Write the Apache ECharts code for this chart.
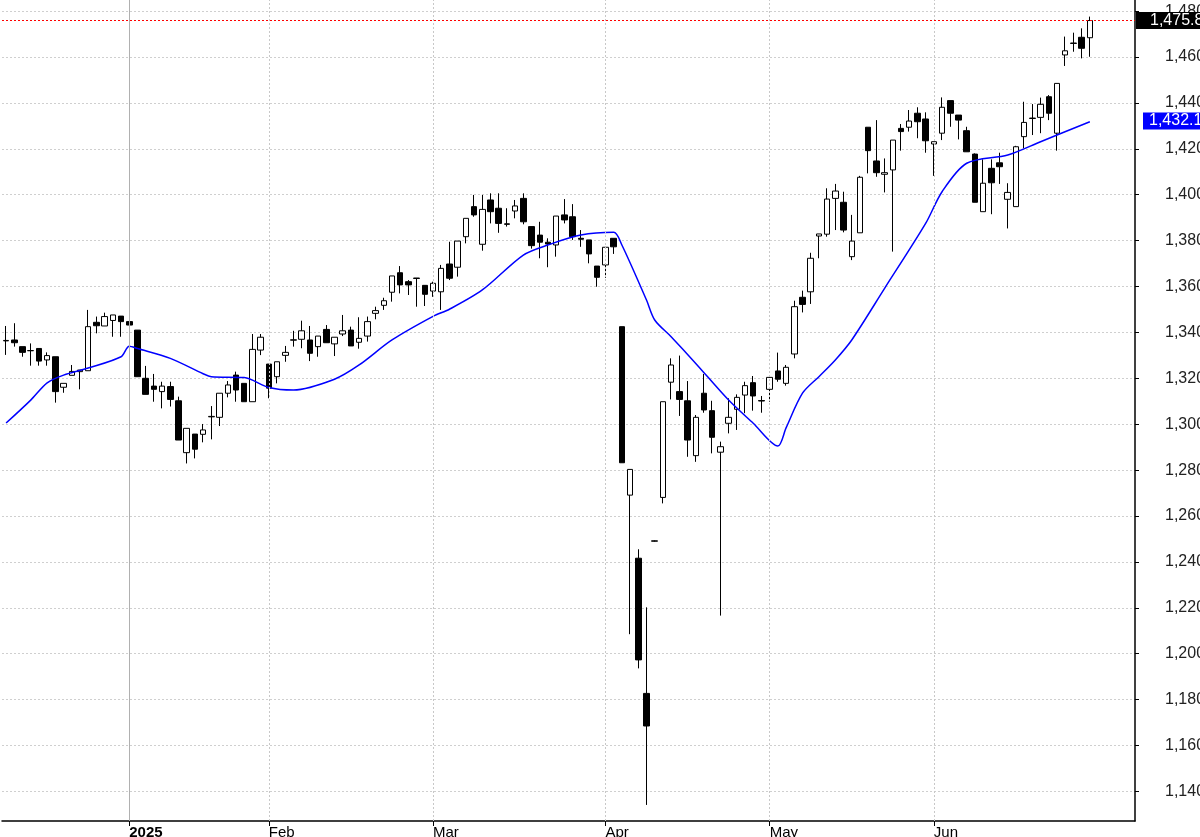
<!DOCTYPE html>
<html><head><meta charset="utf-8">
<script src="https://cdn.jsdelivr.net/npm/echarts@6/dist/echarts.min.js"></script>
<style>html,body{margin:0;padding:0;background:#fff}#c{width:1200px;height:837px}</style>
</head><body><div id="c"></div>
<script>
const opens=[1336.3,1336.7,1333.8,1332.0,1333.0,1328.0,1329.4,1316.1,1321.3,1322.9,1323.3,1344.4,1342.8,1345.2,1347.1,1344.7,1341.0,1320.0,1316.6,1314.2,1316.4,1310.2,1287.6,1295.7,1295.6,1303.2,1303.0,1313.5,1321.4,1317.8,1309.8,1332.3,1326.2,1320.7,1330.0,1336.6,1337.0,1336.7,1333.8,1341.3,1335.0,1339.3,1341.0,1335.7,1338.4,1348.3,1351.8,1357.5,1366.0,1362.1,1363.5,1360.5,1358.0,1357.7,1369.8,1368.4,1381.7,1394.8,1378.4,1397.7,1394.1,1387.3,1392.9,1398.4,1386.1,1382.4,1379.3,1378.1,1391.2,1390.4,1381.0,1380.3,1368.9,1369.4,1381.0,1342.5,1269.1,1241.6,1182.7,1249.0,1268.1,1318.3,1314.2,1310.2,1286.3,1313.5,1305.9,1287.8,1300.4,1306.5,1312.7,1318.1,1310.3,1315.2,1323.2,1317.8,1330.6,1355.3,1357.7,1382.0,1382.8,1398.4,1396.7,1373.0,1383.4,1429.4,1414.7,1408.9,1410.8,1428.9,1429.4,1435.5,1433.0,1422.1,1426.8,1441.0,1434.7,1427.9,1417.7,1392.6,1411.5,1413.9,1398.0,1394.8,1425.3,1433.2,1433.7,1442.7,1426.8,1460.9,1465.9,1468.6,1468.4];
const closes=[1336.5,1335.5,1331.3,1332.1,1327.5,1329.9,1314.2,1317.8,1323.0,1323.6,1342.5,1342.9,1346.9,1347.6,1344.7,1343.2,1320.7,1313.0,1315.2,1316.6,1310.8,1293.1,1298.2,1289.1,1297.5,1303.4,1313.5,1317.1,1314.9,1309.8,1332.6,1337.9,1315.7,1327.2,1331.3,1336.8,1340.7,1330.9,1338.4,1335.5,1337.9,1340.7,1334.1,1337.4,1344.7,1349.5,1353.8,1364.6,1360.7,1360.7,1363.7,1356.6,1361.4,1367.9,1363.6,1379.8,1389.7,1391.2,1393.6,1392.6,1387.5,1387.1,1395.1,1388.2,1377.8,1379.3,1378.5,1390.7,1389.0,1381.7,1380.6,1374.2,1364.0,1377.1,1377.3,1283.2,1280.3,1197.3,1168.5,1249.2,1309.8,1325.8,1310.8,1293.1,1303.0,1306.2,1294.3,1290.2,1303.0,1311.7,1316.8,1312.3,1310.1,1320.4,1319.6,1324.8,1351.2,1352.2,1372.3,1382.9,1398.1,1401.6,1384.6,1379.8,1407.6,1419.2,1409.6,1409.6,1423.8,1427.5,1432.1,1431.8,1423.5,1423.1,1438.1,1435.5,1432.5,1418.7,1396.7,1405.0,1405.2,1412.2,1401.0,1420.9,1431.5,1433.4,1439.4,1435.5,1448.5,1462.7,1466.1,1463.8,1475.89];
const lows=[1330.2,1333.8,1329.4,1325.5,1325.5,1325.5,1309.4,1313.7,1321.3,1315.2,1323.3,1339.6,1342.8,1338.1,1338.1,1334.5,1320.7,1313.0,1309.8,1306.9,1307.7,1293.1,1282.9,1285.1,1292.1,1293.4,1299.2,1311.7,1309.8,1309.8,1309.8,1330.1,1311.3,1317.8,1327.2,1333.8,1333.1,1327.5,1329.4,1335.5,1329.7,1338.4,1334.1,1332.9,1336.0,1345.7,1349.8,1353.4,1357.0,1356.3,1351.2,1351.5,1355.5,1349.8,1362.8,1364.3,1378.8,1390.4,1375.6,1387.5,1383.4,1386.1,1389.7,1387.1,1376.5,1372.3,1368.4,1373.0,1387.5,1380.3,1377.3,1370.1,1359.9,1363.8,1374.2,1283.2,1208.5,1193.6,1134.1,1248.8,1265.5,1310.8,1303.6,1285.8,1283.6,1305.0,1287.3,1216.6,1296.0,1297.5,1304.8,1305.9,1305.0,1309.8,1318.5,1316.8,1328.7,1348.7,1352.4,1372.3,1381.7,1384.6,1383.6,1371.5,1383.4,1409.3,1407.8,1401.0,1375.2,1419.2,1427.5,1424.6,1418.3,1408.2,1423.8,1429.6,1424.1,1418.7,1396.7,1392.6,1391.5,1404.7,1385.3,1394.8,1420.2,1426.0,1426.8,1432.5,1419.2,1456.1,1462.3,1459.4,1460.1];
const highs=[1342.8,1344.0,1333.8,1335.2,1333.0,1331.3,1329.4,1317.8,1325.8,1323.6,1349.8,1346.9,1348.6,1347.6,1347.1,1347.6,1341.0,1325.4,1321.9,1318.5,1318.5,1312.0,1298.2,1295.7,1300.1,1307.9,1313.5,1318.8,1322.9,1317.8,1339.3,1339.3,1326.2,1327.2,1334.1,1340.7,1345.1,1342.8,1338.4,1343.2,1337.9,1347.6,1342.5,1346.6,1346.9,1351.2,1355.1,1364.6,1368.9,1362.8,1363.7,1360.5,1362.1,1369.4,1379.5,1379.8,1389.7,1399.9,1399.9,1400.6,1400.6,1394.1,1397.7,1400.6,1386.1,1388.2,1381.0,1390.7,1398.1,1395.9,1384.6,1380.3,1368.9,1377.1,1381.0,1342.5,1280.3,1245.5,1220.2,1249.4,1309.8,1328.7,1329.9,1318.8,1304.0,1321.9,1310.2,1292.4,1311.3,1313.0,1318.5,1321.0,1312.3,1321.4,1331.2,1325.8,1353.8,1358.2,1374.7,1382.9,1402.8,1404.7,1401.3,1391.2,1408.2,1429.4,1432.5,1415.8,1423.8,1430.8,1436.9,1438.1,1435.9,1423.1,1442.4,1441.0,1434.7,1429.6,1418.0,1415.4,1415.4,1418.3,1405.0,1421.3,1440.5,1439.5,1442.3,1443.4,1448.5,1468.9,1470.6,1472.5,1477.6];
// moving average: [candle index, value]
const maPoints=[[0,1300.5],[3,1310.5],[5,1318],[7,1321.4],[10,1324.5],[14,1329.4],[15,1334],[16,1333],[20,1328.7],[24,1322],[25,1320.7],[29,1320.3],[32,1316],[35,1314.9],[40,1319.6],[43,1325.8],[47,1336.7],[52,1347],[54,1350.1],[58,1358.5],[63,1373.7],[66,1378.1],[70,1382.4],[74,1383.6],[75,1378.1],[78,1354.1],[79,1345.4],[81,1338.1],[84,1326.5],[88,1310.5],[91,1300.4],[94,1290.5],[95,1298.4],[97,1313.5],[99,1320.7],[101,1328],[103,1336.7],[107,1359.2],[112,1387.5],[114,1401.3],[117,1413.7],[122,1417.3],[126,1423.1],[132,1431.8]];
const monthLabels=['2025','Feb','Mar','Apr','May','Jun'];
const monthIdx=[15,32,52,73,93,113];
const yTicks=[1140,1160,1180,1200,1220,1240,1260,1280,1300,1320,1340,1360,1380,1400,1420,1440,1460,1480];
const lastClose=1475.89, lastMA=1432.13;
const N=138;

const cats=[];for(let i=0;i<N;i++)cats.push(String(i));
const candle=opens.map((o,i)=>[o,closes[i],lows[i],highs[i]]);
const ma=new Array(opens.length).fill(null);maPoints.forEach(p=>{ma[p[0]]=p[1];});
const fmt=v=>v.toLocaleString('en-US',{minimumFractionDigits:0,maximumFractionDigits:2});
const isMonth=i=>monthIdx.indexOf(i)>=0;
const FONT='Liberation Sans, Arial';

const vLines=monthIdx.map((k,j)=>({xAxis:k,lineStyle:j===0?{color:'#b0b0b0',type:'solid',width:1}:{color:'#c8c8c8',type:[2,2],width:1}}));

const chart=echarts.init(document.getElementById('c'),null,{renderer:'canvas'});
chart.setOption({
  animation:false,
  grid:{left:2,right:65,top:0,bottom:16,containLabel:false,outerBoundsMode:'none'},
  xAxis:{type:'category',data:cats,boundaryGap:true,
    axisLine:{lineStyle:{color:'#000',width:1.5}},
    axisTick:{show:true,alignWithLabel:true,interval:(i)=>isMonth(i),length:5,lineStyle:{color:'#000'}},
    axisLabel:{interval:(i)=>isMonth(i),align:'left',margin:4,fontFamily:FONT,fontSize:15,color:'#000',
      formatter:(v)=>{const j=monthIdx.indexOf(Number(v));if(j<0)return '';return j===0?'{b|'+monthLabels[j]+'}':monthLabels[j];},
      rich:{b:{fontWeight:'bold',fontSize:15,fontFamily:FONT,color:'#000'}}},
    splitLine:{show:false}},
  yAxis:{type:'value',position:'right',min:1127.1,max:1484.84,scale:true,
    axisLine:{show:true,lineStyle:{color:'#000',width:1.5}},
    axisTick:{show:true,customValues:yTicks,length:4,lineStyle:{color:'#000'}},
    axisLabel:{customValues:yTicks,align:'left',margin:30,fontFamily:FONT,fontSize:16,color:'#222',formatter:v=>fmt(v)},
    splitLine:{show:true,lineStyle:{color:'#cfcfcf',type:[2,2]}}},
  series:[
    {type:'candlestick',data:candle,barWidth:6,
      itemStyle:{color:'#fff',color0:'#000',borderColor:'#000',borderColor0:'#000',borderWidth:1},
      markLine:{silent:true,symbol:'none',animation:false,
        data:[...vLines,
          {yAxis:lastClose,lineStyle:{color:'#ff0000',type:[2,2],width:1},
           label:{show:true,position:'end',distance:1,formatter:fmt(lastClose),color:'#fff',backgroundColor:'#000',padding:[1,4,0,14],fontFamily:FONT,fontSize:16}}],
        label:{show:false}}},
    {type:'line',data:ma,connectNulls:true,showSymbol:false,symbol:'none',smooth:0.3,
      lineStyle:{color:'#0000ff',width:1.5},z:3,
      markLine:{silent:true,symbol:'none',animation:false,
        data:[{yAxis:lastMA,lineStyle:{color:'rgba(0,0,0,0)',width:0},
          label:{show:true,position:'end',distance:8,formatter:fmt(lastMA),color:'#fff',backgroundColor:'#0000ff',padding:[1,4,0,6],fontFamily:FONT,fontSize:16}}]}}
  ]
});
</script></body></html>
